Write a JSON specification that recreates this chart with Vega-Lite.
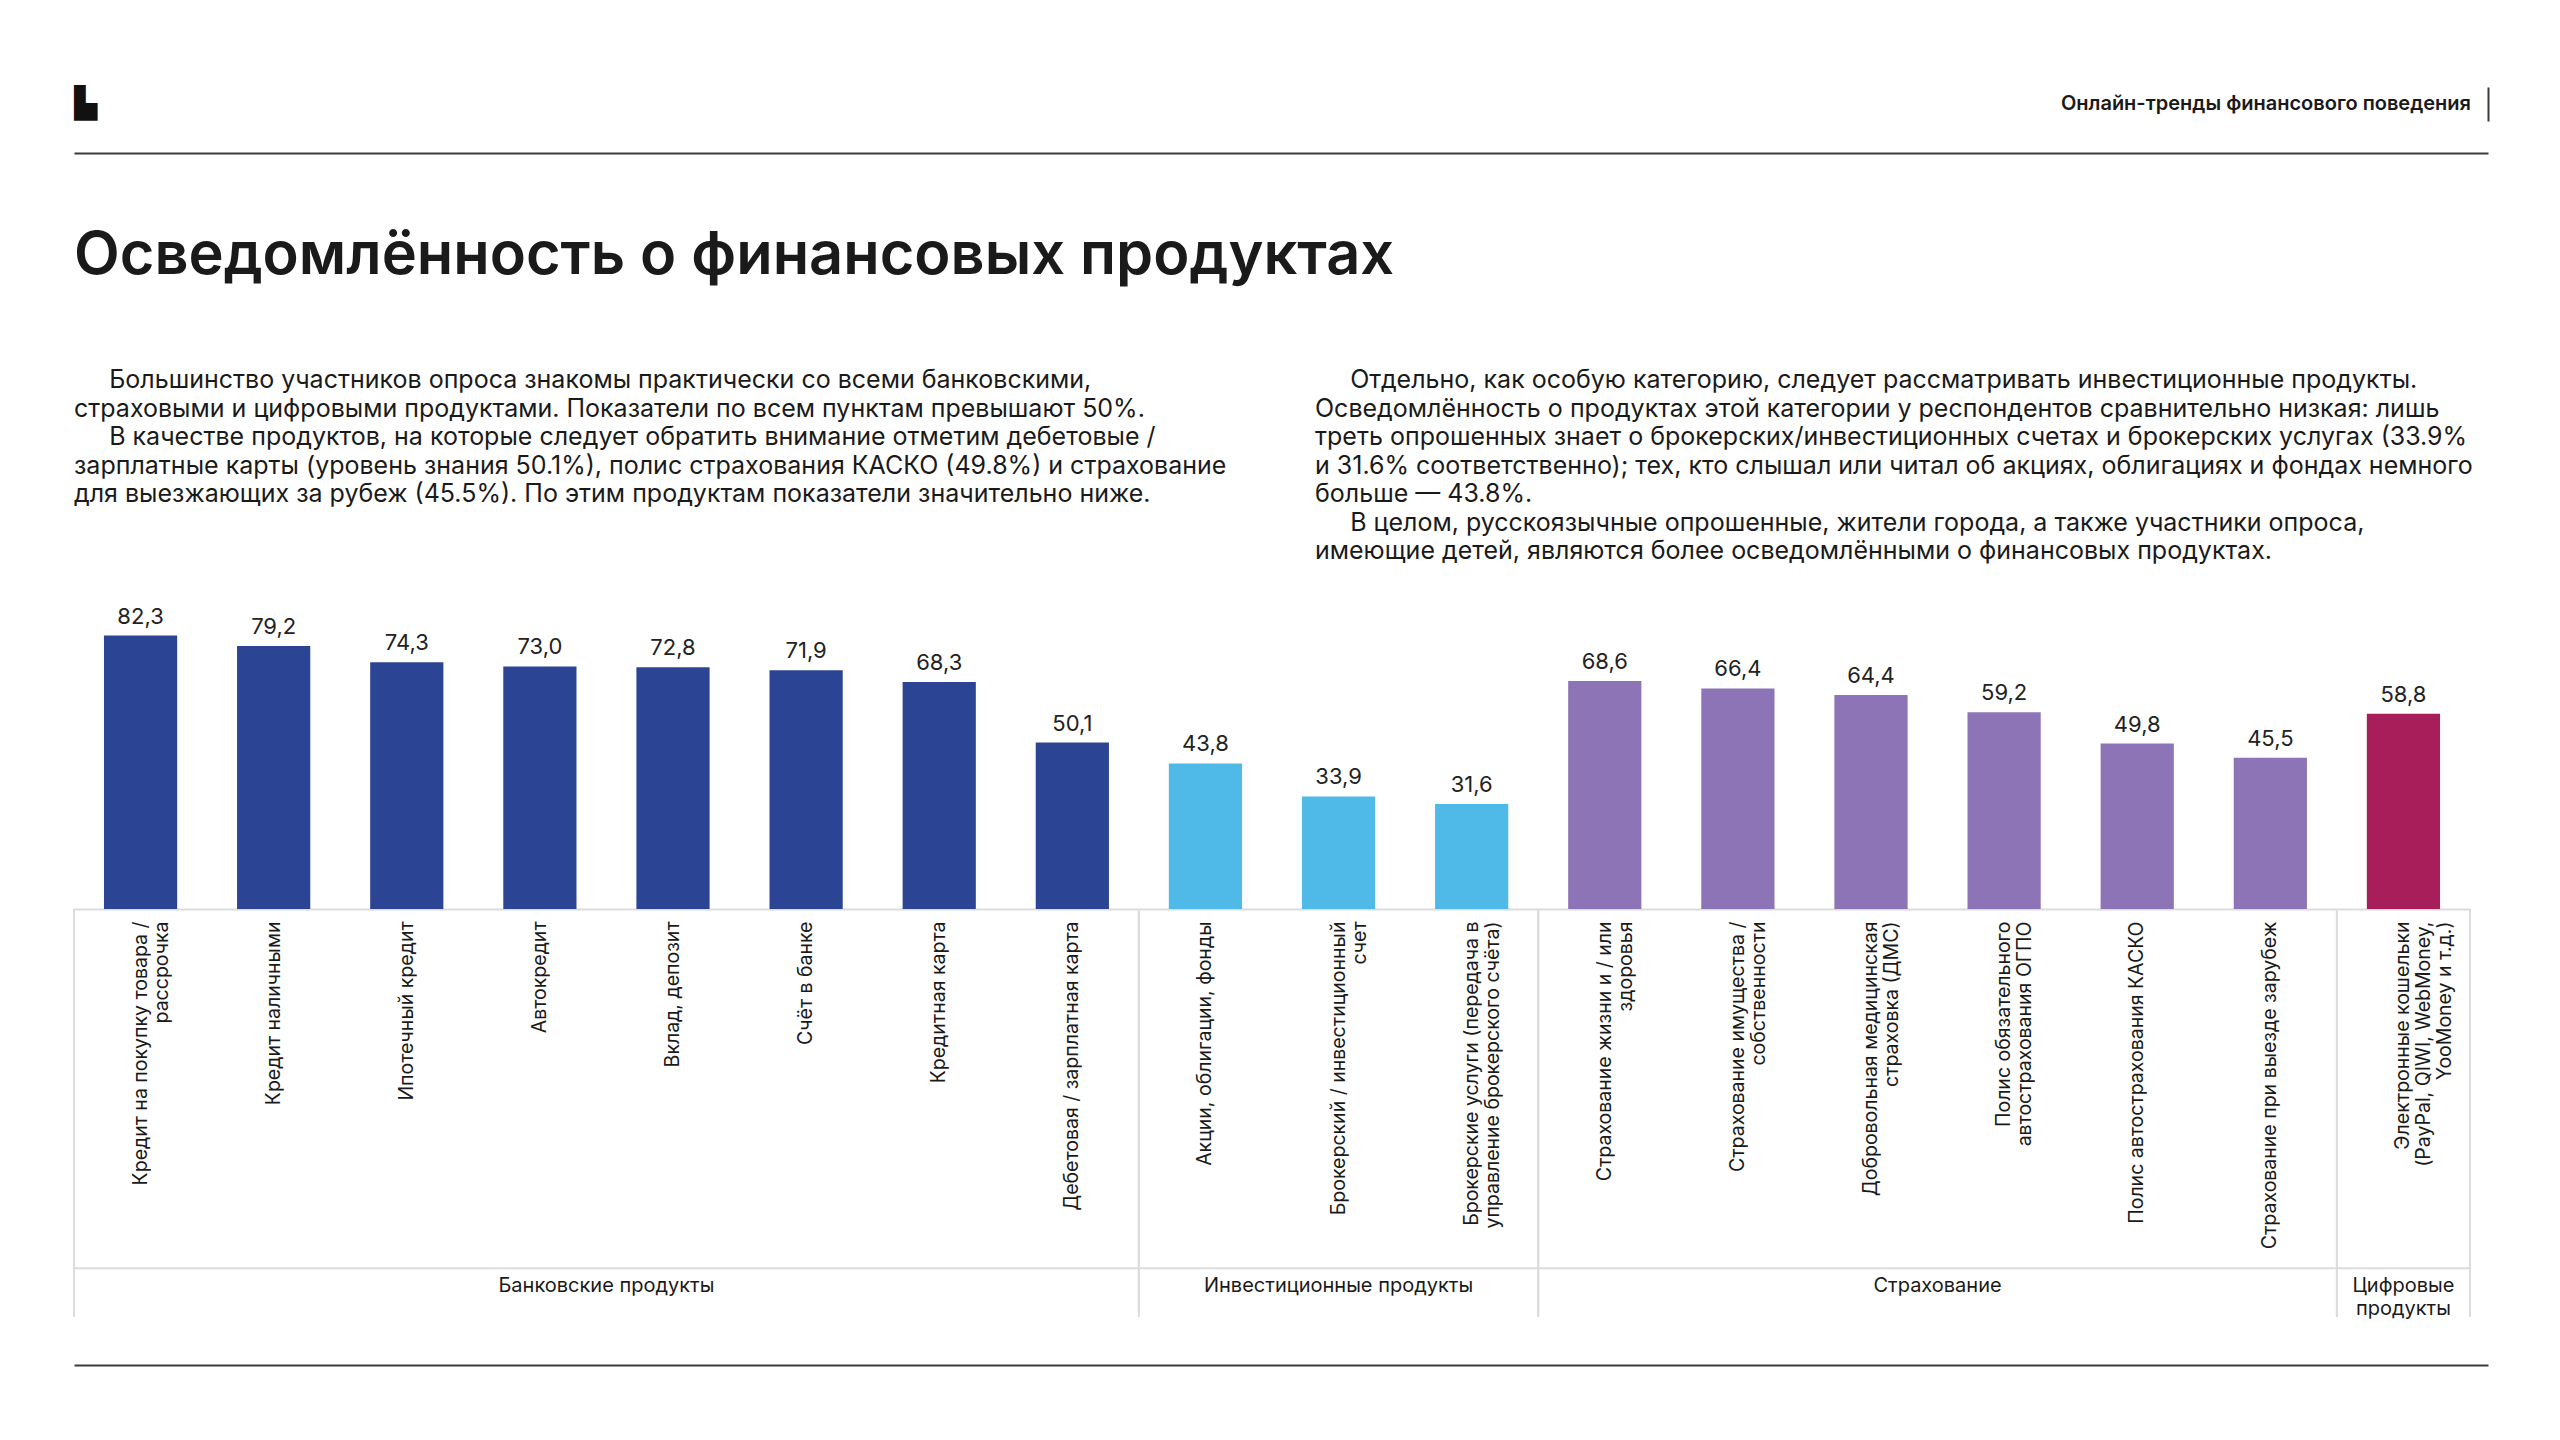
{
  "$schema": "https://vega.github.io/schema/vega-lite/v6.json",
  "background": "white",
  "padding": {"left": 73, "top": 87, "right": 0, "bottom": 0},
  "config": {
    "font": "Inter",
    "view": {"stroke": null},
    "locale": {"number": {"decimal": ",", "thousands": " ", "grouping": [3], "currency": ["", ""]}}
  },
  "datasets": {
    "products": [
      {"product": "Кредит на покупку товара /|рассрочка", "group": "Банковские продукты", "value": 82.3},
      {"product": "Кредит наличными", "group": "Банковские продукты", "value": 79.2},
      {"product": "Ипотечный кредит", "group": "Банковские продукты", "value": 74.3},
      {"product": "Автокредит", "group": "Банковские продукты", "value": 73.0},
      {"product": "Вклад, депозит", "group": "Банковские продукты", "value": 72.8},
      {"product": "Счёт в банке", "group": "Банковские продукты", "value": 71.9},
      {"product": "Кредитная карта", "group": "Банковские продукты", "value": 68.3},
      {"product": "Дебетовая / зарплатная карта", "group": "Банковские продукты", "value": 50.1},
      {"product": "Акции, облигации, фонды", "group": "Инвестиционные продукты", "value": 43.8},
      {"product": "Брокерский / инвестиционный|счет", "group": "Инвестиционные продукты", "value": 33.9},
      {"product": "Брокерские услуги (передача в|управление брокерского счёта)", "group": "Инвестиционные продукты", "value": 31.6},
      {"product": "Страхование жизни и / или|здоровья", "group": "Страхование", "value": 68.6},
      {"product": "Страхование имущества /|собственности", "group": "Страхование", "value": 66.4},
      {"product": "Добровольная медицинская|страховка (ДМС)", "group": "Страхование", "value": 64.4},
      {"product": "Полис обязательного|автострахования ОГПО", "group": "Страхование", "value": 59.2},
      {"product": "Полис автострахования КАСКО", "group": "Страхование", "value": 49.8},
      {"product": "Страхование при выезде зарубеж", "group": "Страхование", "value": 45.5},
      {"product": "Электронные кошельки|(PayPal, QIWI, WebMoney,|YooMoney и т.д.)", "group": "Цифровые продукты", "value": 58.8}
    ],
    "groups": [
      {"group": "Банковские продукты", "label": "Банковские продукты", "first": "Кредит на покупку товара /|рассрочка", "last": "Дебетовая / зарплатная карта", "center": "Вклад, депозит"},
      {"group": "Инвестиционные продукты", "label": "Инвестиционные продукты", "first": "Акции, облигации, фонды", "last": "Брокерские услуги (передача в|управление брокерского счёта)", "center": "Брокерский / инвестиционный|счет"},
      {"group": "Страхование", "label": "Страхование", "first": "Страхование жизни и / или|здоровья", "last": "Страхование при выезде зарубеж", "center": "Полис обязательного|автострахования ОГПО"},
      {"group": "Цифровые продукты", "label": ["Цифровые", "продукты"], "first": "Электронные кошельки|(PayPal, QIWI, WebMoney,|YooMoney и т.д.)", "last": "Электронные кошельки|(PayPal, QIWI, WebMoney,|YooMoney и т.д.)", "center": "Электронные кошельки|(PayPal, QIWI, WebMoney,|YooMoney и т.д.)"}
    ],
    "paragraphs": [
      {"column": "left", "lines": [
        "\u200b\u00a0\u00a0\u00a0\u00a0\u00a0Большинство участников опроса знакомы практически со всеми банковскими,",
        "страховыми и цифровыми продуктами. Показатели по всем пунктам превышают 50%.",
        "\u200b\u00a0\u00a0\u00a0\u00a0\u00a0В качестве продуктов, на которые следует обратить внимание отметим дебетовые /",
        "зарплатные карты (уровень знания 50.1%), полис страхования КАСКО (49.8%) и страхование",
        "для выезжающих за рубеж (45.5%). По этим продуктам показатели значительно ниже."
      ]},
      {"column": "right", "lines": [
        "\u200b\u00a0\u00a0\u00a0\u00a0\u00a0Отдельно, как особую категорию, следует рассматривать инвестиционные продукты.",
        "Осведомлённость о продуктах этой категории у респондентов сравнительно низкая: лишь",
        "треть опрошенных знает о брокерских/инвестиционных счетах и брокерских услугах (33.9%",
        "и 31.6% соответственно); тех, кто слышал или читал об акциях, облигациях и фондах немного",
        "больше — 43.8%.",
        "\u200b\u00a0\u00a0\u00a0\u00a0\u00a0В целом, русскоязычные опрошенные, жители города, а также участники опроса,",
        "имеющие детей, являются более осведомлёнными о финансовых продуктах."
      ]}
    ]
  },
  "spacing": 72,
  "vconcat": [
    {
      "width": 2414,
      "height": 34,
      "data": {"values": [{"header": "Онлайн-тренды финансового поведения", "logo": "▙"}]},
      "layer": [
        {
          "mark": {"type": "text", "align": "right", "baseline": "middle", "dx": -17, "fontSize": 20, "fontWeight": 600, "color": "#1a1a1a"},
          "encoding": {
            "x": {"datum": 1, "type": "quantitative", "scale": {"domain": [0, 1]},
                  "axis": {"orient": "bottom", "offset": 32, "domain": true, "domainColor": "#3a3a3a", "domainWidth": 2, "ticks": false, "labels": false, "grid": false, "title": null}},
            "y": {"datum": 0.5, "type": "quantitative", "scale": {"domain": [0, 1]},
                  "axis": {"orient": "right", "domain": true, "domainColor": "#3a3a3a", "domainWidth": 2, "ticks": false, "labels": false, "grid": false, "title": null}},
            "text": {"field": "header"}
          }
        },
        {
          "mark": {"type": "text", "align": "left", "baseline": "middle", "font": "DejaVu Sans", "fontSize": 30, "color": "#111111"},
          "encoding": {
            "x": {"datum": 0, "type": "quantitative"},
            "y": {"datum": 0.5, "type": "quantitative"},
            "text": {"field": "logo"}
          }
        }
      ]
    },
    {
      "spacing": 37,
      "vconcat": [
        {
          "width": 2482,
          "height": 200,
          "title": {"text": "Осведомлённость о финансовых продуктах", "anchor": "start", "fontSize": 59.5, "fontWeight": 600, "color": "#1a1a1a", "offset": 82},
          "data": {"name": "paragraphs"},
          "mark": {"type": "text", "align": "left", "baseline": "top", "fontSize": 25, "lineHeight": 28.5, "color": "#1a1a1a"},
          "encoding": {
            "x": {"field": "column", "type": "nominal", "bandPosition": 0, "scale": {"type": "band", "paddingInner": 0, "paddingOuter": 0}, "axis": null},
            "y": {"datum": 1, "type": "quantitative", "scale": {"domain": [0, 1]}, "axis": null},
            "text": {"field": "lines"}
          }
        },
        {
          "width": 2396,
          "height": 299,
          "layer": [
            {
              "data": {"name": "products"},
              "mark": {"type": "bar", "width": {"band": 0.55}},
              "encoding": {
                "x": {"field": "product", "type": "nominal",
                      "scale": {"paddingInner": 0, "paddingOuter": 0, "domain": [
                        "Кредит на покупку товара /|рассрочка", "Кредит наличными", "Ипотечный кредит", "Автокредит", "Вклад, депозит", "Счёт в банке", "Кредитная карта", "Дебетовая / зарплатная карта",
                        "Акции, облигации, фонды", "Брокерский / инвестиционный|счет", "Брокерские услуги (передача в|управление брокерского счёта)",
                        "Страхование жизни и / или|здоровья", "Страхование имущества /|собственности", "Добровольная медицинская|страховка (ДМС)", "Полис обязательного|автострахования ОГПО", "Полис автострахования КАСКО", "Страхование при выезде зарубеж",
                        "Электронные кошельки|(PayPal, QIWI, WebMoney,|YooMoney и т.д.)"]},
                      "axis": {"title": null, "labelAngle": -90, "labelAlign": "right", "labelBaseline": "middle", "labelPadding": 12, "labelFontSize": 19.5, "labelColor": "#1a1a1a", "labelLineHeight": 21, "labelLimit": 600, "labelExpr": "split(datum.label, '|')", "ticks": false, "grid": false, "domain": true, "domainColor": "#dcdcdc", "domainWidth": 2}},
                "y": {"field": "value", "type": "quantitative", "scale": {"domain": [0, 90], "nice": false}, "axis": null},
                "color": {"field": "group", "type": "nominal", "legend": null,
                          "scale": {"domain": ["Банковские продукты", "Инвестиционные продукты", "Страхование", "Цифровые продукты"], "range": ["#2b4594", "#4fb9e8", "#8c74b6", "#a81e5a"]}}
              }
            },
            {
              "data": {"name": "products"},
              "mark": {"type": "text", "baseline": "bottom", "dy": -7, "fontSize": 22, "color": "#222222"},
              "encoding": {
                "x": {"field": "product", "type": "nominal"},
                "y": {"field": "value", "type": "quantitative"},
                "text": {"field": "value", "type": "quantitative", "format": ".1f"}
              }
            },
            {
              "data": {"name": "groups"},
              "mark": {"type": "rule", "color": "#dcdcdc", "strokeWidth": 2},
              "encoding": {
                "x": {"field": "first", "type": "nominal", "bandPosition": 0},
                "y": {"datum": 0, "type": "quantitative"},
                "y2": {"datum": -122.8}
              }
            },
            {
              "data": {"name": "groups"},
              "mark": {"type": "rule", "color": "#dcdcdc", "strokeWidth": 2},
              "encoding": {
                "x": {"field": "last", "type": "nominal", "bandPosition": 1},
                "y": {"datum": 0, "type": "quantitative"},
                "y2": {"datum": -122.8}
              }
            },
            {
              "data": {"values": [{}]},
              "mark": {"type": "rule", "color": "#dcdcdc", "strokeWidth": 2},
              "encoding": {"y": {"datum": -108.1, "type": "quantitative"}}
            },
            {
              "data": {"name": "groups"},
              "transform": [{"filter": {"field": "group", "oneOf": ["Банковские продукты", "Страхование"]}}],
              "mark": {"type": "text", "align": "center", "baseline": "top", "fontSize": 20, "lineHeight": 23, "color": "#1a1a1a"},
              "encoding": {
                "x": {"field": "center", "type": "nominal", "bandPosition": 0},
                "y": {"datum": -110.5, "type": "quantitative"},
                "text": {"field": "label"}
              }
            },
            {
              "data": {"name": "groups"},
              "transform": [{"filter": {"field": "group", "oneOf": ["Инвестиционные продукты", "Цифровые продукты"]}}],
              "mark": {"type": "text", "align": "center", "baseline": "top", "fontSize": 20, "lineHeight": 23, "color": "#1a1a1a"},
              "encoding": {
                "x": {"field": "center", "type": "nominal", "bandPosition": 0.5},
                "y": {"datum": -110.5, "type": "quantitative"},
                "text": {"field": "label"}
              }
            }
          ]
        },
        {
          "width": 2414,
          "height": 4,
          "data": {"values": [{"blank": ""}]},
          "mark": {"type": "text"},
          "encoding": {
            "x": {"datum": 0, "type": "quantitative", "scale": {"domain": [0, 1]},
                  "axis": {"orient": "bottom", "domain": true, "domainColor": "#3a3a3a", "domainWidth": 2, "ticks": false, "labels": false, "grid": false, "title": null}},
            "text": {"field": "blank"}
          }
        }
      ]
    }
  ]
}
